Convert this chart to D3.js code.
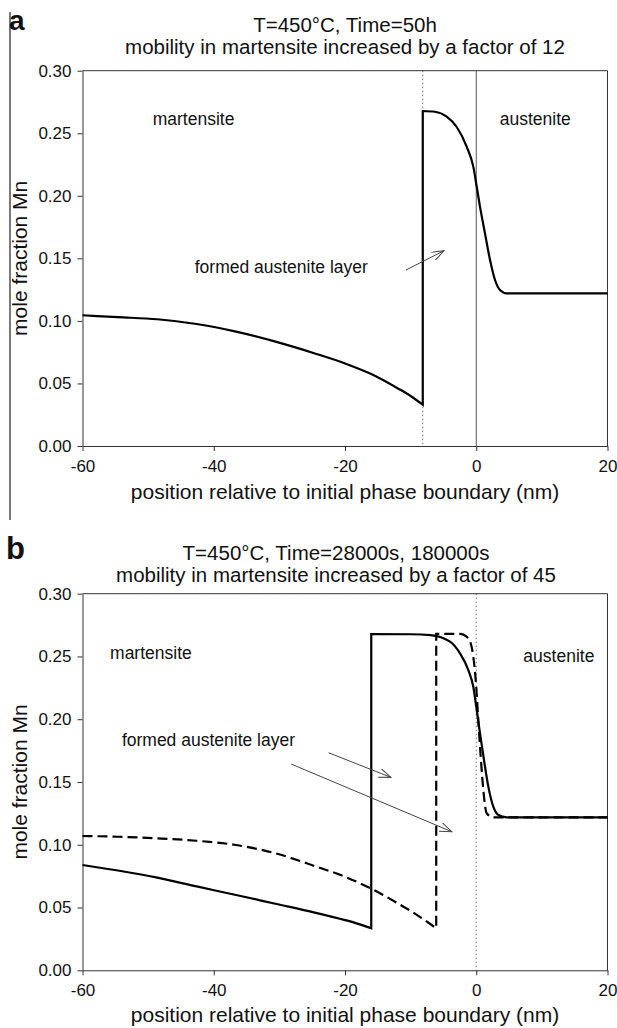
<!DOCTYPE html>
<html>
<head>
<meta charset="utf-8">
<script src="https://cdn.jsdelivr.net/npm/d3@7"></script>
<style>
  body { margin: 0; background: #fff; }
  svg text { font-family: "Liberation Sans", Arial, sans-serif; fill: #111; }
</style>
</head>
<body>
<svg id="chart" width="617" height="1028"></svg>
<script>
// ---- data ----
var xTicks = [-60, -40, -20, 0, 20];
var yTicks = [0, 0.05, 0.10, 0.15, 0.20, 0.25, 0.30];

// panel a : 50h, factor 12
var posA  = [-60, -54.6, -48.6, -42.6, -36.6, -30.6, -24.6, -20, -16, -12, -10, -8.15,
             -8.15, -6.3, -4.5, -3.0, -1.46, -0.45, 0.07, 0.57, 1.33, 2.10, 2.86, 3.62, 4.64, 20];
var moleA = [0.1045, 0.1030, 0.1013, 0.0975, 0.0914, 0.0834, 0.0740, 0.0660, 0.0575, 0.0462, 0.0400, 0.0330,
             0.2678, 0.2672, 0.2633, 0.2552, 0.2393, 0.2233, 0.2073, 0.1913, 0.1700, 0.1487, 0.1327, 0.1247, 0.1220, 0.1220];

// panel b : 180000s (solid), 28000s (dashed), factor 45
var posB1  = [-60, -54.6, -48.6, -42.6, -36.6, -30.6, -24.6, -20, -18, -16.0,
              -16.0, -10.0, -7.0, -4.0, -2.48, -1.21, -0.45, 0.07, 0.57, 1.18, 1.84, 2.60, 3.36, 4.64, 20];
var moleB1 = [0.0839, 0.0795, 0.0738, 0.0668, 0.0600, 0.0530, 0.0460, 0.0400, 0.0370, 0.0335,
              0.2679, 0.2677, 0.2670, 0.2618, 0.2525, 0.2392, 0.2259, 0.2074, 0.1888, 0.1675, 0.1463, 0.1303, 0.1237, 0.1219, 0.1219];
var posB2  = [-60, -54.6, -48.6, -42.6, -36.6, -30.6, -24.6, -20, -16, -12, -9, -6.1,
              -6.1, -2.5, -1.21, -0.45, -0.04, 0.31, 0.68, 1.08, 1.59, 2.60, 20];
var moleB2 = [0.1070, 0.1064, 0.1051, 0.1032, 0.0998, 0.0932, 0.0830, 0.0745, 0.0650, 0.0535, 0.0440, 0.0335,
              0.2680, 0.2680, 0.2645, 0.2498, 0.2286, 0.1994, 0.1701, 0.1436, 0.1251, 0.1219, 0.1219];

var titlesA = ["T=450°C, Time=50h", "mobility in martensite increased by a factor of 12"];
var titlesB = ["T=450°C, Time=28000s, 180000s", "mobility in martensite increased by a factor of 45"];

var labelsA = [["martensite", -49.3, 0.2566], ["austenite", 3.59, 0.2566], ["formed austenite layer", -42.9, 0.1383]];
var labelsB = [["martensite", -55.8, 0.248], ["austenite", 7.18, 0.2456], ["formed austenite layer", -54.0, 0.1787]];
var arrowsA = [[-10.7, 0.1407, -4.91, 0.1561]];
var arrowsB = [[-22.5, 0.1733, -13.0, 0.1537], [-28.2, 0.1643, -3.73, 0.1104]];

var svg = d3.select("#chart");

svg.append("defs").append("marker")
    .attr("id", "open")
    .attr("markerUnits", "userSpaceOnUse")
    .attr("markerWidth", 14).attr("markerHeight", 10)
    .attr("refX", 12).attr("refY", 4.5)
    .attr("orient", "auto")
  .append("path")
    .attr("d", "M0,0 L12,4.5 L0,9")
    .attr("fill", "none").attr("stroke", "#444").attr("stroke-width", 1);

// left border line of the figure
svg.append("line").attr("x1", 10).attr("x2", 10).attr("y1", 12).attr("y2", 520)
    .attr("stroke", "#222").attr("stroke-width", 1.2);

function pieces(pos, mole) {
  var pts = pos.map(function (p, i) { return [p, mole[i]]; });
  var out = [], cur = [pts[0]];
  for (var i = 1; i < pts.length; i++) {
    if (pts[i][0] === pts[i - 1][0]) { out.push(cur); cur = []; }
    cur.push(pts[i]);
  }
  out.push(cur);
  return out;
}

function drawPanel(o) {
  var x = d3.scaleLinear().domain([-60, 20]).range([82.5, 607.5]);
  var y = d3.scaleLinear().domain([0, 0.3]).range([o.bottom, o.top]);
  var g = svg.append("g");

  // panel letter
  g.append("text").attr("x", o.letterX).attr("y", o.letterY)
    .style("font-size", o.letterSize + "px").style("font-weight", "bold").text(o.letter);

  // titles
  o.titles.forEach(function (t, i) {
    g.append("text").attr("x", o.titleX).attr("y", o.titleY + i * 22)
      .attr("text-anchor", "middle").style("font-size", "20.5px").text(t);
  });

  // guide lines
  o.guides.forEach(function (gd) {
    g.append("line").attr("x1", x(gd[0])).attr("x2", x(gd[0]))
      .attr("y1", o.top).attr("y2", o.bottom)
      .attr("stroke", gd[1] ? "#777" : "#555")
      .attr("stroke-width", 1)
      .attr("stroke-dasharray", gd[1] ? "1.5,2.5" : null);
  });

  // frame (top and right)
  g.append("path")
    .attr("d", "M" + x(-60) + "," + o.top + "H" + x(20) + "V" + o.bottom)
    .attr("fill", "none").attr("stroke", "#333").attr("stroke-width", 1);

  var xAxis = g.append("g").attr("transform", "translate(0," + o.bottom + ")")
    .call(d3.axisBottom(x).tickValues(xTicks).tickFormat(function (d) { return String(d); })
      .tickSize(5).tickSizeOuter(0).tickPadding(9));
  var yAxis = g.append("g").attr("transform", "translate(" + x(-60) + ",0)")
    .call(d3.axisLeft(y).tickValues(yTicks).tickFormat(function (d) { return d.toFixed(2); })
      .tickSize(5).tickSizeOuter(0).tickPadding(6));
  [xAxis, yAxis].forEach(function (a) {
    a.selectAll("path, line").attr("stroke", "#333");
    a.selectAll("text").style("font-size", "17px").attr("fill", "#111")
      .style("font-family", "'Liberation Sans', Arial, sans-serif");
  });

  // axis titles
  g.append("text").attr("x", 345).attr("y", o.xTitleY).attr("text-anchor", "middle")
    .style("font-size", "21px").text("position relative to initial phase boundary (nm)");
  g.append("text").attr("transform", "translate(27," + (o.top + o.bottom) / 2 + ") rotate(-90)")
    .attr("text-anchor", "middle").style("font-size", "21px").text("mole fraction Mn");

  // curves
  var line = d3.line().x(function (d) { return x(d[0]); }).y(function (d) { return y(d[1]); })
    .curve(d3.curveMonotoneX);
  o.series.forEach(function (s) {
    var d = pieces(s.pos, s.mole).map(function (p, i) {
      var str = line(p);
      return i === 0 ? str : str.replace(/^M/, "L");
    }).join("");
    g.append("path").attr("d", d).attr("fill", "none").attr("stroke", "#000")
      .attr("stroke-width", 2.2).attr("stroke-linejoin", "miter")
      .attr("stroke-dasharray", s.dash);
  });

  // annotations
  o.labels.forEach(function (l) {
    g.append("text").attr("x", x(l[1])).attr("y", y(l[2])).style("font-size", "17.5px").text(l[0]);
  });
  o.arrows.forEach(function (a) {
    g.append("line").attr("x1", x(a[0])).attr("y1", y(a[1])).attr("x2", x(a[2])).attr("y2", y(a[3]))
      .attr("stroke", "#444").attr("stroke-width", 1).attr("marker-end", "url(#open)");
  });
}

drawPanel({
  top: 70.7, bottom: 446, letter: "a", letterX: 9, letterY: 30, letterSize: 28,
  titles: titlesA, titleX: 345, titleY: 31.5, xTitleY: 499,
  guides: [[-8.15, true], [0, false]],
  series: [{ pos: posA, mole: moleA, dash: null }],
  labels: labelsA, arrows: arrowsA
});

drawPanel({
  top: 593.7, bottom: 970.3, letter: "b", letterX: 6, letterY: 559, letterSize: 31,
  titles: titlesB, titleX: 336, titleY: 560, xTitleY: 1022,
  guides: [[0, true]],
  series: [{ pos: posB1, mole: moleB1, dash: null }, { pos: posB2, mole: moleB2, dash: "10,5" }],
  labels: labelsB, arrows: arrowsB
});
</script>
</body>
</html>
